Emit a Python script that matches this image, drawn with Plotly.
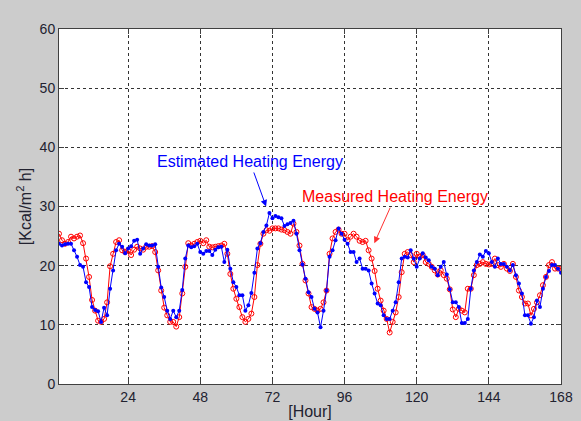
import plotly.graph_objects as go

hours = list(range(1, 169))

estimated = [
    23.7, 23.4, 23.6, 23.7, 23.7, 22.6, 21.5, 20.1, 19.8, 17.2, 16.4, 13.0, 12.5, 12.3, 10.5, 12.9, 11.6, 16.1, 19.2, 22.6, 23.7, 23.2, 22.1, 22.9,
    23.3, 24.2, 24.4, 22.0, 22.9, 23.6, 23.4, 23.4, 23.6, 19.8, 16.3, 14.7, 12.4, 11.0, 12.4, 11.3, 12.4, 15.9, 21.2, 23.4, 23.1, 23.3, 23.7, 22.3,
    22.0, 22.5, 22.5, 21.8, 22.7, 23.1, 23.2, 20.6, 22.7, 19.5, 17.2, 16.4, 15.0, 15.0, 12.4, 13.3, 15.4, 18.8, 22.9, 23.8, 25.7, 26.8, 28.9, 28.0,
    28.4, 28.2, 28.0, 26.7, 27.0, 27.2, 27.6, 25.4, 22.6, 20.2, 17.8, 15.5, 14.7, 12.7, 12.1, 9.6, 12.4, 15.8, 21.5, 22.6, 24.3, 26.3, 25.4, 24.4,
    23.7, 22.3, 22.3, 20.6, 21.2, 19.5, 19.5, 19.2, 17.0, 15.3, 13.6, 13.3, 11.6, 11.0, 11.0, 12.4, 13.8, 17.2, 21.2, 21.5, 21.4, 22.6, 21.2, 19.8,
    21.2, 22.1, 21.4, 20.9, 19.8, 19.5, 18.4, 19.8, 20.6, 18.5, 16.0, 13.8, 13.8, 13.0, 10.3, 10.3, 11.0, 16.1, 19.2, 20.6, 21.9, 21.5, 22.5, 22.1,
    20.6, 19.8, 21.2, 20.3, 20.3, 19.8, 19.2, 20.1, 18.4, 17.0, 15.3, 11.6, 11.6, 10.2, 11.3, 14.1, 13.0, 16.1, 18.1, 19.1, 20.1, 20.1, 19.5, 18.8,
]

measured = [
    25.4, 24.3, 23.7, 24.0, 24.9, 24.6, 24.9, 25.1, 23.8, 21.2, 18.1, 14.2, 12.4, 10.7, 10.5, 11.0, 13.8, 19.9, 22.0, 24.0, 24.3, 22.6, 22.3, 22.6,
    21.8, 22.7, 23.2, 22.9, 22.7, 23.2, 23.2, 23.3, 22.3, 19.2, 15.8, 12.9, 11.6, 10.5, 10.5, 9.7, 11.3, 15.3, 19.8, 23.8, 23.4, 23.7, 24.0, 24.2,
    23.8, 24.3, 23.2, 23.1, 23.2, 23.3, 23.4, 23.7, 22.0, 18.6, 16.1, 14.4, 13.0, 11.3, 10.5, 11.0, 11.9, 14.7, 20.1, 23.7, 25.4, 26.0, 25.9, 26.3,
    26.3, 26.3, 26.1, 26.0, 25.7, 25.4, 27.1, 25.7, 23.4, 20.3, 17.5, 15.3, 13.0, 12.7, 12.4, 12.7, 13.8, 15.8, 22.0, 24.6, 25.7, 26.1, 25.4, 25.4,
    24.3, 24.9, 25.4, 24.9, 24.2, 24.0, 24.2, 22.6, 21.2, 19.1, 16.1, 14.1, 12.4, 11.0, 8.7, 10.5, 12.1, 14.7, 18.9, 22.0, 22.3, 21.8, 20.6, 22.0,
    21.5, 21.8, 20.6, 20.3, 19.8, 19.2, 18.5, 19.2, 18.4, 17.8, 16.0, 12.6, 11.3, 12.7, 12.4, 12.1, 16.1, 16.1, 18.4, 20.1, 20.3, 20.6, 20.3, 20.2,
    20.3, 21.2, 20.1, 19.8, 20.3, 19.5, 19.1, 20.3, 18.1, 15.8, 14.7, 13.6, 13.6, 11.6, 12.7, 13.8, 15.0, 16.7, 18.1, 20.1, 20.6, 19.5, 19.5, 19.5,
]

x_ticks = [24, 48, 72, 96, 120, 144, 168]
y_ticks = [0, 10, 20, 30, 40, 50, 60]

label_est = "Estimated Heating Energy"
label_meas = "Measured Heating Energy"

FONT = "Liberation Sans, Arial"
TXT = "#222230"

fig = go.Figure()
fig.add_trace(go.Scatter(
    x=hours, y=measured, mode="lines+markers", name=label_meas,
    line=dict(color="#ff0000", width=1),
    marker=dict(symbol="circle-open", size=5, color="#ff0000", line=dict(width=1)),
))
fig.add_trace(go.Scatter(
    x=hours, y=estimated, mode="lines+markers", name=label_est,
    line=dict(color="#0000ff", width=1),
    marker=dict(symbol="circle", size=4, color="#0000ff"),
))

axis_common = dict(
    showline=True, linecolor="#404040", linewidth=1, mirror="ticks",
    ticks="inside", ticklen=5, tickcolor="#404040",
    showgrid=True, gridcolor="#333333", griddash="3px,3px", gridwidth=1,
    zeroline=False, automargin=False,
    tickfont=dict(family=FONT, size=14, color=TXT),
)

fig.update_xaxes(range=[1, 168], tickvals=x_ticks, ticktext=[str(v) for v in x_ticks],
                 title=dict(text="[Hour]", font=dict(family=FONT, size=16, color=TXT), standoff=2),
                 **axis_common)
fig.update_yaxes(range=[0, 60], tickvals=y_ticks, ticktext=[str(v) for v in y_ticks],
                 title=dict(text="[Kcal/m<sup>2</sup> h]", font=dict(family=FONT, size=16, color=TXT), standoff=4),
                 **axis_common)

fig.add_annotation(x=69.9, y=30.0, ax=64.5, ay=37.6, xref="x", yref="y", axref="x", ayref="y",
                   text=label_est, showarrow=True, arrowhead=2, arrowsize=1.3, arrowwidth=1,
                   arrowcolor="#0000ff", standoff=0, startstandoff=1,
                   font=dict(family=FONT, size=16, color="#0000ff"))
fig.add_annotation(x=105.9, y=23.8, ax=112.8, ay=31.65, xref="x", yref="y", axref="x", ayref="y",
                   text=label_meas, showarrow=True, arrowhead=2, arrowsize=1.3, arrowwidth=1,
                   arrowcolor="#ff3030", standoff=0, startstandoff=1,
                   font=dict(family=FONT, size=16, color="#ff0000"))

fig.update_layout(
    width=581, height=421,
    margin=dict(l=59, r=20, t=29, b=37),
    paper_bgcolor="#cccccc", plot_bgcolor="#ffffff",
    showlegend=False,
)

fig.write_html("out.html")
